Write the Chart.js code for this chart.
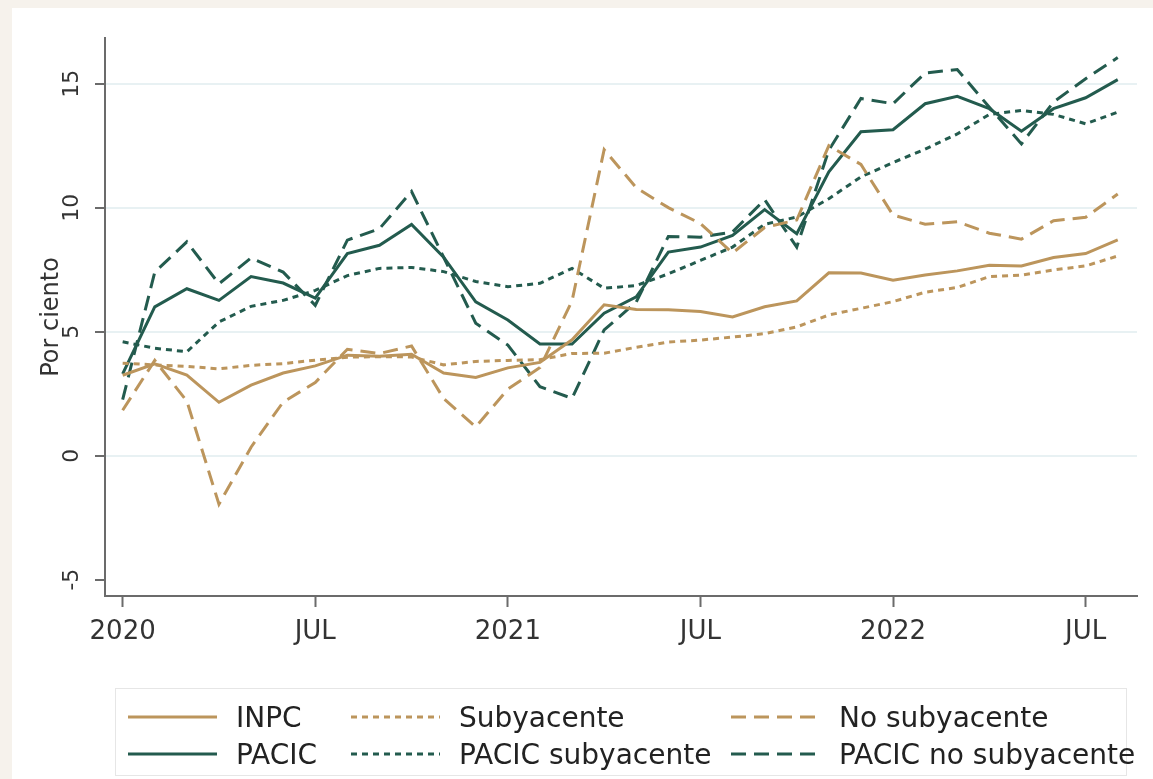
<!DOCTYPE html>
<html><head><meta charset="utf-8">
<script src="https://cdn.jsdelivr.net/npm/chart.js@4.4.1/dist/chart.umd.min.js"></script>
<style>
html,body{margin:0;padding:0;width:1153px;height:779px;overflow:hidden;background:#f6f2ec;}
#panel{position:absolute;left:12px;top:8px;width:1141px;height:771px;background:#fff;}
#wrap{position:absolute;left:0;top:0;width:1153px;height:779px;}
#legend{position:absolute;left:115px;top:688px;width:1012px;height:88px;border:1px solid #e6e6e6;box-sizing:border-box;font-family:'DejaVu Sans',sans-serif;font-size:28px;color:#222;}
.item{position:absolute;height:30px;display:flex;align-items:center;white-space:nowrap;}
.item svg{margin-right:19px;flex:none;}
</style></head>
<body>
<div id="panel"></div>
<div id="wrap"><canvas id="c" width="1153" height="779"></canvas></div>
<div id="legend"></div>
<script>
const months = ['2020-01','2020-02','2020-03','2020-04','2020-05','2020-06','2020-07','2020-08','2020-09','2020-10','2020-11','2020-12',
'2021-01','2021-02','2021-03','2021-04','2021-05','2021-06','2021-07','2021-08','2021-09','2021-10','2021-11','2021-12',
'2022-01','2022-02','2022-03','2022-04','2022-05','2022-06','2022-07','2022-08'];
const tickMonths = ['2020-01','2020-07','2021-01','2021-07','2022-01','2022-07'];
const tickText = ['2020','JUL','2021','JUL','2022','JUL'];
const yTicks = [-5,0,5,10,15];

const inpc = [3.24,3.70,3.25,2.15,2.84,3.33,3.62,4.05,4.01,4.09,3.33,3.15,3.54,3.76,4.67,6.08,5.89,5.88,5.81,5.59,6.00,6.24,7.37,7.36,7.07,7.28,7.45,7.68,7.65,7.99,8.15,8.70];
const subyacente = [3.73,3.66,3.60,3.50,3.64,3.71,3.85,3.97,3.99,3.98,3.66,3.80,3.84,3.87,4.12,4.13,4.37,4.58,4.66,4.78,4.92,5.19,5.67,5.94,6.21,6.59,6.78,7.22,7.28,7.49,7.65,8.05];
const noSubyacente = [1.83,3.84,2.2,-1.96,0.34,2.16,2.95,4.29,4.12,4.42,2.3,1.16,2.68,3.55,6.24,12.34,10.8,10.0,9.36,8.17,9.2,9.5,12.5,11.74,9.7,9.33,9.43,8.97,8.73,9.47,9.61,10.55];
const pacic = [3.3,6.0,6.73,6.26,7.22,6.96,6.35,8.15,8.48,9.32,8.0,6.2,5.47,4.5,4.5,5.74,6.4,8.21,8.41,8.88,9.92,8.95,11.44,13.06,13.14,14.19,14.49,13.99,13.08,13.99,14.43,15.16];
const pacicSub = [4.59,4.33,4.19,5.39,6.02,6.26,6.66,7.26,7.55,7.59,7.42,7.02,6.81,6.95,7.55,6.75,6.86,7.33,7.87,8.41,9.33,9.62,10.36,11.24,11.82,12.36,12.97,13.76,13.92,13.76,13.38,13.85];
const pacicNoSub = [2.26,7.40,8.62,6.93,7.97,7.40,6.06,8.69,9.15,10.65,8.0,5.34,4.46,2.78,2.31,5.07,6.19,8.84,8.81,9.02,10.32,8.41,12.32,14.4,14.19,15.43,15.57,14.05,12.57,14.26,15.2,16.05];

const TAN = '#BC955C', GREEN = '#235B4E';
const DOT = [6,5], DASH = [15,8];
const FONT = "'DejaVu Sans', sans-serif";

function pts(arr){ return arr.map((v,i)=>({x:i,y:v})); }
function ds(label, data, color, dash){
  return {label, data: pts(data), borderColor: color, backgroundColor: color, borderWidth: 3,
    borderDash: dash, pointRadius: 0, pointHoverRadius: 0, tension: 0, fill: false, borderCapStyle: 'butt', borderJoinStyle: 'miter'};
}

const chart = new Chart(document.getElementById('c'), {
  type: 'line',
  data: { datasets: [
    ds('INPC', inpc, TAN, []),
    ds('Subyacente', subyacente, TAN, DOT),
    ds('No subyacente', noSubyacente, TAN, DASH),
    ds('PACIC', pacic, GREEN, []),
    ds('PACIC subyacente', pacicSub, GREEN, DOT),
    ds('PACIC no subyacente', pacicNoSub, GREEN, DASH)
  ]},
  options: {
    responsive: false, animation: false,
    layout: { padding: { left: 25, top: 38, right: 16, bottom: 123 } },
    plugins: { legend: { display: false }, tooltip: { enabled: false } },
    scales: {
      x: {
        type: 'linear', min: -0.55, max: 31.6,
        afterBuildTicks: s => { s.ticks = tickMonths.map(m => ({ value: months.indexOf(m) })); },
        afterFit: s => { s.height = 60; },
        grid: { drawOnChartArea: false, drawTicks: true, tickLength: 11, tickColor: '#6b6b6b', tickWidth: 2 },
        border: { display: true, color: '#6b6b6b', width: 2 },
        ticks: { padding: 10, color: '#333', font: { family: FONT, size: 26 }, maxRotation: 0, autoSkip: false,
          callback: v => tickText[tickMonths.indexOf(months[v])] }
      },
      y: {
        type: 'linear', min: -5.66, max: 16.84,
        afterBuildTicks: s => { s.ticks = yTicks.map(v => ({ value: v })); },
        afterFit: s => { s.width = 80; },
        grid: { color: c => (c.tick && c.tick.value === -5) ? 'rgba(0,0,0,0)' : '#e8f1f3', lineWidth: 2,
          drawTicks: true, tickLength: 10, tickColor: '#6b6b6b', tickWidth: 2 },
        border: { display: true, color: '#6b6b6b', width: 2 },
        ticks: { padding: 9, color: '#333', font: { family: FONT, size: 22 }, minRotation: 90, maxRotation: 90,
          crossAlign: 'center', autoSkip: false, callback: v => String(v) },
        title: { display: true, text: 'Por ciento', color: '#333', font: { family: FONT, size: 24 }, padding: { top: 12, bottom: 0 } }
      }
    }
  }
});

// HTML legend built from the chart's own legend items
const items = Chart.defaults.plugins.legend.labels.generateLabels(chart);
const legend = document.getElementById('legend');
const colX = [12, 235, 615], rowY = [13, 50];
items.forEach((it, i) => {
  const d = document.createElement('div');
  d.className = 'item';
  d.style.left = colX[i % 3] + 'px';
  d.style.top = rowY[Math.floor(i / 3)] + 'px';
  const dash = (it.lineDash && it.lineDash.length) ? it.lineDash.join(',') : 'none';
  d.innerHTML = '<svg width="89" height="8"><line x1="0" y1="4" x2="89" y2="4" stroke="' + it.strokeStyle +
    '" stroke-width="3" stroke-dasharray="' + dash + '"/></svg><span>' + it.text + '</span>';
  legend.appendChild(d);
});
</script>
</body></html>
